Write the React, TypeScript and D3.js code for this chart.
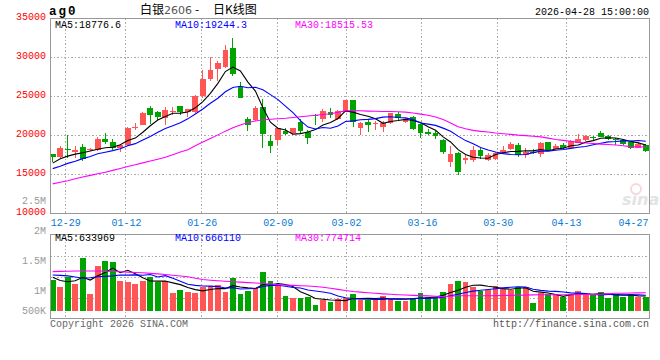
import React from 'react';
import * as d3 from 'd3';

// trading days shown on the chart
const dates = [
  '12-25', '12-26', '12-29', '12-30', '12-31', '01-05', '01-06', '01-07', '01-08', '01-09',
  '01-12', '01-13', '01-14', '01-15', '01-16', '01-19', '01-20', '01-21', '01-22', '01-23',
  '01-26', '01-27', '01-28', '01-29', '01-30', '02-02', '02-03', '02-04', '02-05', '02-06',
  '02-09', '02-10', '02-11', '02-12', '02-13', '02-24', '02-25', '02-26', '02-27', '03-02',
  '03-03', '03-04', '03-05', '03-06', '03-09', '03-10', '03-11', '03-12', '03-13', '03-16',
  '03-17', '03-18', '03-19', '03-20', '03-23', '03-24', '03-25', '03-26', '03-27', '03-30',
  '03-31', '04-01', '04-02', '04-03', '04-07', '04-08', '04-09', '04-10', '04-13', '04-14',
  '04-15', '04-16', '04-17', '04-20', '04-21', '04-22', '04-23', '04-24', '04-27', '04-28',
];

const open = [
  17600, 17215, 18250, 17856, 18497, 18155, 18070, 19524, 19096, 18326,
  18711, 20890, 21318, 23498, 22985, 22173, 22985, 23754, 22985, 23028,
  25037, 27216, 28541, 28798, 31148, 26148, 22088, 21959, 23626, 19267,
  19395, 20591, 20292, 21660, 20378, 22600, 22130, 22942, 22045, 23028,
  24524, 20934, 21660, 21446, 21104, 21575, 22728, 21746, 22386, 21404,
  20463, 20335, 19395, 16574, 17686, 16830, 16830, 18113, 16873, 16959,
  17771, 18241, 18754, 17472, 17899, 17643, 19139, 18284, 18754, 18412,
  19053, 19438, 19780, 20335, 19951, 19550, 19395, 19139, 18412, 18711,
];
const high = [
  17650, 18625, 20000, 18583, 18925, 18412, 19780, 20292, 19524, 18882,
  21062, 21617, 22942, 23754, 23113, 23626, 23626, 23754, 23370, 25200,
  28370, 30037, 29524, 31576, 32516, 26832, 22387, 23754, 24609, 20036,
  20891, 20891, 20891, 22130, 20634, 22686, 23370, 23498, 23199, 24524,
  24524, 21660, 21959, 21831, 21831, 22857, 22942, 22173, 22515, 21404,
  20805, 20549, 19524, 18626, 17814, 17472, 18626, 18369, 17686, 17899,
  18626, 19139, 19010, 18326, 18241, 19096, 19139, 18925, 19053, 19352,
  20164, 20036, 19951, 20591, 20079, 19700, 19481, 19267, 19096, 18840,
];
const low = [
  16650, 17130, 17100, 17130, 16745, 17985, 17985, 18882, 18155, 17814,
  18626, 20634, 21276, 21490, 21917, 21318, 22600, 22600, 22386, 22900,
  24737, 26960, 27003, 28584, 27601, 24780, 20549, 21831, 18412, 17771,
  18754, 19993, 20036, 20121, 18925, 21318, 21746, 22216, 21959, 22942,
  21104, 20036, 20463, 20676, 20378, 21446, 21831, 21532, 20677, 19694,
  20036, 19566, 17643, 15976, 14950, 16403, 16574, 17044, 16703, 16830,
  17557, 18113, 17258, 17130, 17600, 17258, 18070, 18284, 18241, 18241,
  18967, 19310, 19267, 19737, 19395, 18800, 18797, 18241, 18326, 17857,
];
const close = [
  17230, 18370, 18200, 18113, 17044, 18284, 19524, 19139, 18412, 18711,
  20933, 21105, 22857, 22600, 22386, 23242, 23113, 22942, 23328, 25037,
  27259, 28413, 29268, 30935, 27858, 24780, 21318, 23498, 20207, 18668,
  20891, 20164, 20891, 20549, 19694, 22429, 23071, 22557, 23113, 24524,
  21660, 21575, 21361, 21575, 21575, 22857, 22173, 22088, 20848, 20250,
  20164, 19951, 17857, 17600, 15335, 17087, 18113, 17387, 17472, 17771,
  18113, 18925, 17472, 17857, 17729, 19010, 18113, 18626, 18326, 19267,
  19524, 19951, 19609, 19823, 19524, 19480, 18925, 18412, 18882, 18028,
];

// moving averages
const ma5 = [
  16450, 17020, 17350, 17600, 17791, 18002, 18233, 18421, 18481, 18814,
  19344, 19660, 20404, 21241, 21976, 22438, 22840, 22857, 23002, 23532,
  24336, 25396, 26661, 28182, 28747, 28251, 26832, 25678, 23532, 21694,
  20916, 20686, 20164, 20233, 20438, 20745, 21327, 21660, 22173, 23139,
  22985, 22686, 22447, 22139, 21549, 21789, 21908, 22054, 21908, 21643,
  21105, 20660, 19814, 19164, 18181, 17566, 17198, 17104, 17079, 17566,
  17771, 17934, 17951, 18028, 18019, 18199, 18036, 18267, 18361, 18668,
  18771, 19139, 19335, 19635, 19686, 19677, 19472, 19233, 19045, 18777,
];
const ma10 = [
  15750, 16050, 16420, 16700, 17030, 17300, 17650, 17850, 18050, 18303,
  18673, 18947, 19412, 19861, 20395, 20891, 21250, 21630, 22122, 22754,
  23387, 24118, 24759, 25592, 26140, 26293, 26114, 26169, 25857, 25220,
  24584, 23759, 22921, 21882, 21066, 20831, 21006, 20912, 21203, 21788,
  21865, 22006, 22053, 22156, 22344, 22387, 22297, 22250, 22024, 21596,
  21447, 21284, 20934, 20536, 19912, 19335, 18929, 18459, 18122, 17874,
  17669, 17566, 17528, 17553, 17793, 17985, 17985, 18109, 18194, 18344,
  18485, 18588, 18801, 18998, 19177, 19224, 19306, 19284, 19340, 19244,
];
const ma30 = [
  13790, 14000, 14200, 14440, 14680, 14880, 15080, 15290, 15520, 15770,
  16010, 16250, 16480, 16720, 16950, 17200, 17530, 17870, 18170, 18680,
  19150, 19600, 20070, 20550, 20990, 21330, 21660, 21850, 22000, 22080,
  22140, 22200, 22290, 22390, 22490, 22590, 22680, 22780, 22950, 23150,
  23180, 23150, 23110, 23090, 23070, 23060, 23030, 22980, 22880, 22730,
  22580, 22350, 22050, 21600, 21100, 20850, 20650, 20520, 20430, 20300,
  20220, 20140, 20040, 19970, 19890, 19810, 19650, 19470, 19360, 19250,
  19110, 19020, 18960, 18890, 18840, 18770, 18680, 18560, 18530, 18516,
];

// volume, thousands of lots
const volumeK = [
  1324, 1022, 1438, 1151, 2272, 720, 1927, 2142, 2114, 1281,
  1252, 1151, 1281, 1438, 1238, 1281, 764, 893, 821, 778,
  1008, 1065, 1108, 807, 1410, 720, 864, 979, 1668, 1281,
  1051, 648, 562, 562, 605, 260, 476, 390, 504, 533,
  705, 462, 462, 462, 634, 504, 433, 433, 562, 764,
  591, 591, 807, 1151, 1281, 1238, 1008, 835, 893, 1065,
  950, 893, 1022, 1008, 332, 749, 705, 705, 605, 705,
  850, 677, 677, 807, 548, 705, 605, 705, 605, 605,
];
const volMa5K = [
  1438, 1300, 1250, 1290, 1441, 1321, 1502, 1642, 1835, 1637,
  1743, 1588, 1416, 1281, 1272, 1278, 1200, 1123, 999, 907,
  853, 913, 956, 953, 1080, 1022, 982, 956, 1128, 1102,
  1169, 1125, 1042, 821, 686, 527, 493, 459, 447, 433,
  522, 519, 533, 525, 545, 505, 499, 493, 513, 539,
  557, 588, 663, 781, 884, 1014, 1097, 1103, 1051, 1008,
  950, 927, 965, 988, 841, 801, 763, 700, 619, 694,
  714, 708, 703, 743, 712, 683, 668, 674, 640, 634,
];
const volMa10K = [
  1540, 1520, 1500, 1450, 1400, 1420, 1460, 1480, 1500, 1539,
  1532, 1545, 1529, 1558, 1454, 1511, 1394, 1269, 1140, 1090,
  1065, 1057, 1039, 976, 994, 937, 947, 956, 1041, 1091,
  1095, 1054, 999, 975, 894, 848, 809, 750, 634, 559,
  525, 506, 496, 486, 489, 513, 509, 513, 519, 542,
  531, 544, 578, 647, 712, 785, 843, 883, 916, 946,
  982, 1012, 1034, 1019, 924, 876, 845, 832, 803, 767,
  757, 736, 701, 681, 703, 698, 688, 688, 688, 666,
];
const volMa30K = [
  1685, 1695, 1700, 1710, 1711, 1711, 1711, 1700, 1688, 1675,
  1660, 1648, 1632, 1610, 1588, 1560, 1530, 1495, 1460, 1400,
  1345, 1315, 1290, 1270, 1250, 1230, 1210, 1195, 1175, 1150,
  1125, 1105, 1090, 1075, 1062, 1040, 1010, 970, 920, 870,
  830, 800, 775, 750, 725, 707, 690, 675, 660, 650,
  640, 620, 605, 625, 647, 647, 647, 647, 647, 650,
  655, 660, 665, 672, 680, 688, 690, 690, 690, 690,
  695, 700, 705, 715, 730, 750, 755, 760, 768, 775,
];

const priceTicks = [35000, 30000, 25000, 20000, 15000, 10000];
const priceGrid = [30000, 25000, 20000, 15000];
const volTickLabels = ['2.5M', '2M', '1.5M', '1M', '500K'];
const volTickValues = [2500, 2000, 1500, 1000, 500];
const xTickDates = ['12-29', '01-12', '01-26', '02-09', '03-02', '03-16', '03-30', '04-13', '04-27'];

const headerMa = ['MA5:18776.6', 'MA10:19244.3', 'MA30:18515.53'];
const headerVolMa = ['MA5:633969', 'MA10:666110', 'MA30:774714'];

const RED = '#ff5555';
const GREEN = '#00a400';
const MA_COLORS = ['#000000', '#0000ff', '#ff00ff'];
const MONO = "'Liberation Mono', 'DejaVu Sans Mono', monospace";
const CJK = "'Noto Sans CJK SC', 'Noto Sans', sans-serif";

const App: React.FC = () => {
  const W = 660, H = 360;
  const left = 50, right = 649.5;
  const mainTop = 18.5, mainBottom = 213.5;
  const volTop = 234.5, volBottom = 318.5, volBase = 310.7;

  const x = d3.scaleBand<string>()
    .domain(dates)
    .range([48.95, 649.55])
    .paddingInner(0.24)
    .paddingOuter(0.12);
  const bw = x.bandwidth();
  const cx = (d: string) => (x(d) ?? 0) + bw / 2;
  // the date grid runs on its own slightly wider step
  const gx = d3.scalePoint<string>().domain(dates).range([50.5, 650.1]);

  const y = d3.scaleLinear().domain([10000, 35000]).range([mainBottom, 18.3]);
  const yv = d3.scaleLinear().domain([0, 3300]).range([volBase, volBase - 76.6]);
  // Sina's volume labels sit on their own (odd) scale
  const yvLabel = d3.scaleLinear().domain([1000, 2500]).range([294, 203.5]);

  const priceLine = d3.line<number>().x((_, i) => cx(dates[i])).y(v => y(v));
  const volLine = d3.line<number>().x((_, i) => cx(dates[i])).y(v => yv(v));

  const gridDates = xTickDates.filter(d => (gx(d) ?? 0) < right - 15);

  return (
    <svg width={W} height={H} style={{ position: 'absolute', left: 0, top: 0, background: '#fff' }}
      fontFamily={MONO}>
      <rect x={0} y={0} width={W} height={H} fill="#fff" />

      {/* watermark */}
      <g opacity={0.5}>
        <circle cx={636} cy={189} r={5} fill="none" stroke="#f3b0b0" strokeWidth={2} />
        <text x={622} y={205} fontFamily="'DejaVu Sans', sans-serif" fontStyle="italic" fontWeight="bold"
          fontSize={16} fill="#c8c8c8">sina</text>
      </g>

      {/* grid */}
      <g stroke="#aaa" strokeDasharray="1.5,2" strokeWidth={1} shapeRendering="crispEdges">
        {priceGrid.map(v => (
          <line key={v} x1={left} x2={right} y1={Math.round(y(v)) + 0.5} y2={Math.round(y(v)) + 0.5} />
        ))}
        {[1, 2, 3].map(k => {
          const yy = Math.round(volTop + (k * (volBottom - volTop)) / 4) + 0.5;
          return <line key={k} x1={left} x2={right} y1={yy} y2={yy} />;
        })}
        {gridDates.map(d => {
          const gxx = Math.round(gx(d) ?? 0) - 0.5;
          return (
            <g key={d}>
              <line x1={gxx} x2={gxx} y1={mainTop} y2={mainBottom} />
              <line x1={gxx} x2={gxx} y1={volTop} y2={volBottom} />
            </g>
          );
        })}
      </g>

      {/* candles */}
      <g shapeRendering="crispEdges">
        {dates.map((d, i) => {
          const up = close[i] >= open[i];
          const col = up ? RED : GREEN;
          const top = y(Math.max(open[i], close[i]));
          const h = Math.max(1, Math.abs(y(open[i]) - y(close[i])));
          return (
            <g key={d}>
              <line x1={cx(d)} x2={cx(d)} y1={y(high[i])} y2={y(low[i])} stroke={col} strokeWidth={1} />
              <rect x={x(d)} y={top} width={bw} height={h} fill={col} />
            </g>
          );
        })}
      </g>

      {/* price MAs */}
      {[ma5, ma10, ma30].map((s, k) => (
        <path key={k} d={priceLine(s) ?? ''} fill="none" stroke={MA_COLORS[k]} strokeWidth={1.1} />
      ))}

      {/* volume bars */}
      <g shapeRendering="crispEdges">
        {dates.map((d, i) => (
          <rect key={d} x={x(d)} y={yv(volumeK[i])} width={bw} height={volBase - yv(volumeK[i])}
            fill={close[i] >= open[i] ? RED : GREEN} />
        ))}
      </g>

      {/* volume MAs */}
      {[volMa5K, volMa10K, volMa30K].map((s, k) => (
        <path key={k} d={volLine(s) ?? ''} fill="none" stroke={MA_COLORS[k]} strokeWidth={1.1} />
      ))}

      {/* panel borders */}
      <g fill="none" stroke="#999" strokeWidth={1} shapeRendering="crispEdges">
        <rect x={left} y={mainTop} width={right - left} height={mainBottom - mainTop} />
        <rect x={left} y={volTop} width={right - left} height={volBottom - volTop} />
      </g>

      {/* header row */}
      <text x={49} y={14.5} fontSize={12.5} fontWeight="bold" letterSpacing={2} fill="#000">ag0</text>
      <text x={140} y={13.5} fontFamily={CJK} fontSize={12} fill="#000">白银</text>
      <text x={164} y={13.5} fontFamily="'DejaVu Sans', sans-serif" fontSize={11} fill="#555">2606</text>
      <text x={195} y={13.5} fontFamily={CJK} fontSize={12} fill="#000">-</text>
      <text x={213} y={13.5} fontFamily={CJK} fontSize={12} fill="#000">日K线图</text>
      <text x={649} y={15} fontSize={10} textAnchor="end" fill="#000">2026-04-28 15:00:00</text>

      {headerMa.map((t, k) => (
        <text key={t} x={55 + k * 120} y={27.5} fontSize={10} fill={MA_COLORS[k]}>{t}</text>
      ))}
      {headerVolMa.map((t, k) => (
        <text key={t} x={55 + k * 120} y={241} fontSize={10} fill={MA_COLORS[k]}>{t}</text>
      ))}

      {/* price ticks */}
      {priceTicks.map(v => (
        <text key={v} x={46} y={Math.min(Math.max(y(v) + 1.7, 18.5), 215)} fontSize={10} textAnchor="end" fill="#f00">{v}</text>
      ))}

      {/* volume ticks */}
      {volTickValues.map((v, k) => (
        <text key={v} x={46} y={Math.min(yvLabel(v), 314)} fontSize={10} textAnchor="end" fill="#999">{volTickLabels[k]}</text>
      ))}

      {/* date ticks */}
      {xTickDates.map(d => {
        const px = Math.min(gx(d) ?? 0, right - 16);
        return (
          <text key={d} x={px} y={225.5} fontSize={10} textAnchor="middle" fill="#0a7bd1">{d}</text>
        );
      })}

      {/* footer */}
      <text x={50} y={327} fontSize={10} fill="#666">Copyright 2026 SINA.COM</text>
      <text x={649} y={327} fontSize={10} textAnchor="end" fill="#555">http://finance.sina.com.cn</text>
    </svg>
  );
};

export default App;
